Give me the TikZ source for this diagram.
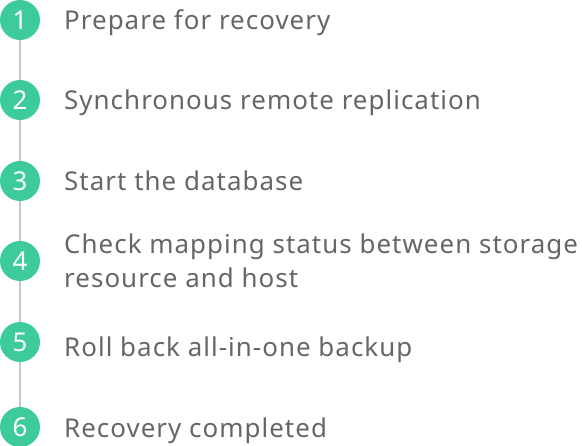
\documentclass[tikz,border=0pt]{standalone}
\usepackage{fontspec}
\setmainfont{Noto Sans}[LetterSpace=4]
\newfontfamily\digitfont{Noto Sans}
\usetikzlibrary{positioning}
\definecolor{stepgreen}{HTML}{3DCB9E}
\definecolor{stepgray}{HTML}{666666}
\definecolor{linegray}{HTML}{C8C8C8}
\tikzset{
  stepdot/.style={circle,fill=stepgreen,text=white,minimum size=40bp,inner sep=0pt,font=\digitfont\fontsize{26}{26}\selectfont},
  steptext/.style={anchor=base west,text=stepgray,align=left,inner sep=0pt,font=\fontsize{26}{35}\selectfont}
}
\begin{document}
\begin{tikzpicture}[x=1bp,y=-1bp]
     \useasboundingbox (0,0) rectangle (582,446);

     \node[stepdot] (s1) at (20, 20) {1};
     \node[stepdot] (s2) at (20,100) {2};
     \node[stepdot] (s3) at (20,181) {3};
     \node[stepdot] (s4) at (20,261) {4};
     \node[stepdot] (s5) at (20,342) {5};
     \node[stepdot] (s6) at (20,427) {6};

     \draw[linegray,line width=1.5bp] (s1) -- (s2);
     \draw[linegray,line width=1.5bp] (s2) -- (s3);
     \draw[linegray,line width=1.5bp] (s3) -- (s4);
     \draw[linegray,line width=1.5bp] (s4) -- (s5);
     \draw[linegray,line width=1.5bp] (s5) -- (s6);

     \node[steptext] (t1) at (64, 30) {Prepare for recovery};
     \node[steptext] (t2) at (64,110) {Synchronous remote replication};
     \node[steptext] (t3) at (64,191) {Start the database};
     % base of a two-line node sits on its last line
     \node[steptext] (t4) at (64,288) {Check mapping status between storage\\resource and host};
     \node[steptext] (t5) at (64,356) {Roll back all-in-one backup};
     \node[steptext] (t6) at (64,437) {Recovery completed};
\end{tikzpicture}
\end{document}
